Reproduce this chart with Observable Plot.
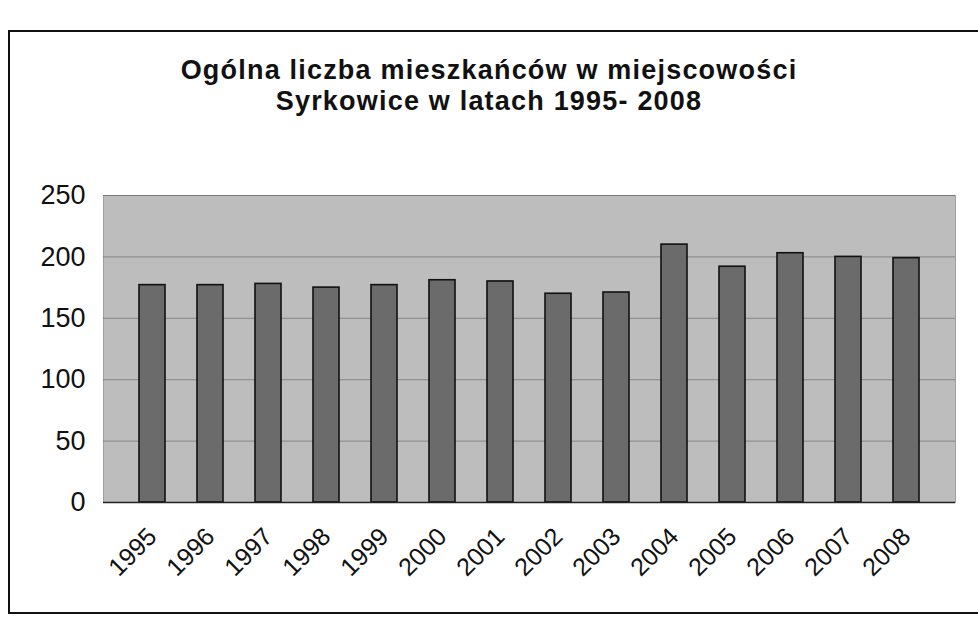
<!DOCTYPE html>
<html>
<head>
<meta charset="utf-8">
<script src="https://cdn.jsdelivr.net/npm/d3@7"></script>
<script src="https://cdn.jsdelivr.net/npm/@observablehq/plot@0.6"></script>
<style>
  html, body { margin: 0; padding: 0; background: #fff; width: 978px; height: 629px; overflow: hidden; }
  #box { position: absolute; left: 8px; top: 30px; width: 985px; height: 584px; border: 2px solid #111; box-sizing: border-box; }
  #title { position: absolute; left: 0; top: 55px; width: 978px; text-align: center; font-family: "Liberation Sans", Arial, sans-serif; font-weight: bold; font-size: 27px; letter-spacing: 1.2px; line-height: 31px; color: #111; }
  #chart { position: absolute; left: 0; top: 150px; }
</style>
</head>
<body>
<div id="box"></div>
<div id="title">Ogólna liczba mieszkańców w miejscowości<br>Syrkowice w latach 1995- 2008</div>
<div id="chart"></div>
<script>
const years = ["1995","1996","1997","1998","1999","2000","2001","2002","2003","2004","2005","2006","2007","2008"];
const residents = [177, 177, 178, 175, 177, 181, 180, 170, 171, 210, 192, 203, 200, 199];
const yTicks = [0, 50, 100, 150, 200, 250];

const data = years.map((y, i) => ({year: y, value: residents[i]}));

const chart = Plot.plot({
  width: 978,
  height: 480,
  marginTop: 45,
  marginBottom: 128,
  marginLeft: 103,
  marginRight: 23,
  style: {fontFamily: "'Liberation Sans', Arial, sans-serif", color: "#111", background: "transparent"},
  x: {domain: years, padding: 0.55, label: null},
  y: {domain: [0, 250], label: null},
  marks: [
    Plot.frame({fill: "#bdbdbd", stroke: "#777", strokeOpacity: 0.6}),
    Plot.gridY(yTicks, {stroke: "#444", strokeOpacity: 0.45}),
    Plot.barY(data, {x: "year", y: "value", fill: "#6b6b6b", stroke: "#111", strokeWidth: 1.6}),
    Plot.ruleX([0], {frameAnchor: "left", stroke: "#222", strokeWidth: 1.5}),
    Plot.ruleY([0], {stroke: "#222", strokeWidth: 1.5}),
    Plot.axisX({tickRotate: -45, fontSize: 25, tickSize: 0, tickPadding: 30}),
    Plot.axisY({ticks: yTicks, fontSize: 27, tickSize: 0, tickPadding: 18})
  ]
});
document.getElementById("chart").appendChild(chart);
</script>
</body>
</html>
